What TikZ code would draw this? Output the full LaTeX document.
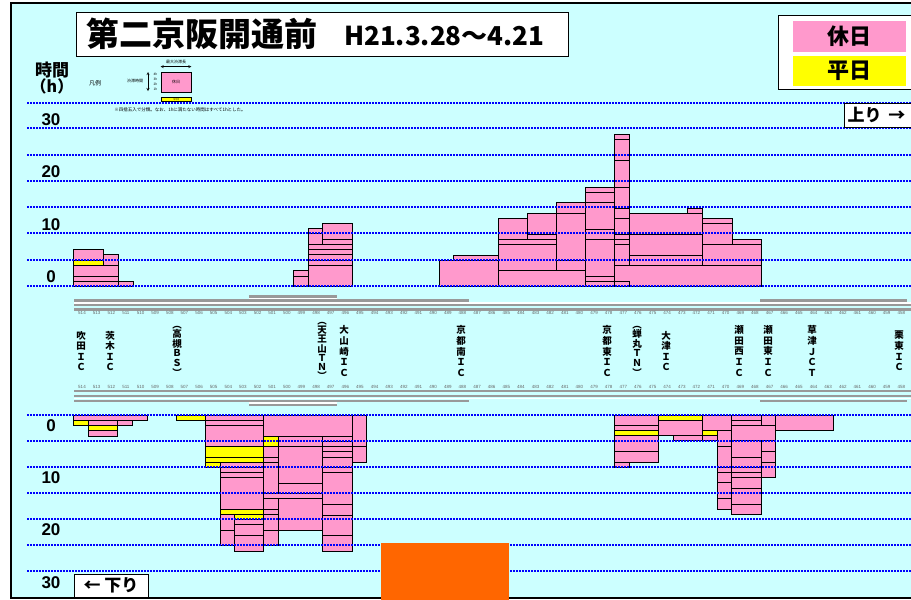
\documentclass[tikz,border=0pt]{standalone}
\usepackage{fontspec}
\setmainfont{Noto Sans CJK JP}
\newfontfamily\arial{Liberation Sans}
\usetikzlibrary{positioning}

\definecolor{bgcyan}{HTML}{CCFFFF}
\definecolor{hpink}{HTML}{FF99CC}
\definecolor{wyellow}{HTML}{FFFF00}
\definecolor{roadgray}{HTML}{999999}
\definecolor{blockorange}{HTML}{FF6600}

\tikzset{
  holi/.style={fill=hpink, draw=black, line width=1pt},
  week/.style={fill=wyellow, draw=black, line width=1pt},
  hourgrid/.style={blue, line width=1.8pt, dash pattern=on 1.5pt off 1.5pt},
  road/.style={roadgray, line width=2.4pt},
  kp/.style={font=\arial\fontsize{4.5}{5}\selectfont, text=black!60, inner sep=0pt},
  hour/.style={font=\arial\bfseries\fontsize{17}{17}\selectfont, inner sep=0pt},
  ic/.style={align=center, inner sep=0pt},
  tag/.style={draw=black, fill=white, line width=1pt, inner sep=0pt},
  tiny/.style={font=\fontsize{4.5}{5}\selectfont, inner sep=0pt},
}

\begin{document}
\begin{tikzpicture}[x=1pt, y=-1pt]
    \useasboundingbox (0,0) rectangle (911,600);
    % Frame and background
    \fill[white] (0,0) rectangle (911,600);
    \filldraw[fill=bgcyan, draw=black, line width=2pt] (11,3) rectangle (925,598);

    % Title
    \node[tag, minimum width=492pt, minimum height=44pt] (title) at (322,34) {};
    \node[anchor=west, font=\bfseries\fontsize{33}{33}\selectfont, inner sep=0pt] (titlejp) at (86,34) {第二京阪開通前};
    \node[anchor=west, font=\bfseries\fontsize{26}{26}\selectfont, inner sep=0pt] (titledate) at (344,36) {H21.3.28～4.21};

    % Legend (top right)
    \node[tag, minimum width=150pt, minimum height=74pt] (legend) at (853,52) {};
    \node[fill=hpink, minimum width=113pt, minimum height=31pt, inner sep=0pt, font=\bfseries\fontsize{22}{22}\selectfont] (holiday) at (849.5,36.5) {休日};
    \node[fill=wyellow, minimum width=113pt, minimum height=30pt, inner sep=0pt, font=\bfseries\fontsize{22}{22}\selectfont] (weekday) at (849.5,71) {平日};

    % Small legend
    \node[font=\fontsize{6}{6}\selectfont, inner sep=0pt] (hanrei) at (95,83) {凡例};
    \node[holi, line width=0.8pt, minimum width=30pt, minimum height=20pt, inner sep=0pt, font=\fontsize{4}{4}\selectfont] (sample) at (176,82) {休日};
    \node[week, line width=0.8pt, minimum width=30pt, minimum height=4pt, inner sep=0pt, font=\fontsize{3}{3}\selectfont] (samplew) at (176,99) {平日};
    \node[tiny, font=\fontsize{4}{4}\selectfont] (maxlen) at (176,62) {最大渋滞長};
    \draw[<->, >=stealth, line width=0.4pt] ([yshift=5pt]sample.north west) -- ([yshift=5pt]sample.north east);
    \coordinate (jamtop) at (148,72);
    \coordinate (jambot) at (148,91);
    \draw[<->, >=stealth, line width=0.4pt] (jamtop) -- (jambot);
    \node[tiny, font=\fontsize{4}{4}\selectfont] (jamtime) at (135,81) {渋滞時間};
    \foreach \h/\yy in {4/74,3/79,2/84,1/89}
        \node[tiny, font=\fontsize{3.2}{3.2}\selectfont] (hr\h) at (155.5,\yy) {\h h};
    \node[tiny] (note) at (180,110) {※四捨五入で分類。なお、1hに満たない時間はすべて1hとした。};

    % Axis titles and values
    \node[font=\bfseries\fontsize{17}{17}\selectfont, inner sep=0pt] (jikan) at (52,70) {時間};
    \node[font=\bfseries\fontsize{16}{16}\selectfont, inner sep=0pt, below=0pt of jikan] (unit) {（h）};
    \foreach \v/\yy in {30/120,20/172,10/225,0/277}
        \node[hour] (up\v) at (51,\yy) {\v};
    \foreach \v/\yy in {0/426,10/478,20/530,30/583}
        \node[hour] (dn\v) at (51,\yy) {\v};

    % Road (upper)
    \draw[road] (249,296.5) -- (337,296.5);
    \draw[white, line width=1.2pt] (249,298.8) -- (337,298.8);
    \draw[road] (74,300.5) -- (469,300.5);
    \draw[road] (760,300.5) -- (907,300.5);
    \draw[white, line width=1.4pt] (74,303) -- (911,303);
    \draw[road, line width=2pt] (74,305.3) -- (911,305.3);
    \draw[road] (74,309.3) -- (911,309.3);
    % Road (lower)
    \draw[road] (74,390.7) -- (911,390.7);
    \draw[road, line width=2pt] (74,396.3) -- (911,396.3);
    \draw[white, line width=1.4pt] (74,398.6) -- (911,398.6);
    \draw[road] (74,400.8) -- (469,400.8);
    \draw[road] (760,400.8) -- (907,400.8);
    \draw[white, line width=1.2pt] (249,403) -- (337,403);
    \draw[road] (249,405.2) -- (337,405.2);

    % Kilometre posts
    \foreach \k in {458,...,514} {
        \node[kp] (kpu\k) at ({82+(514-\k)*14.63},313.3) {\k};
        \node[kp] (kpd\k) at ({82+(514-\k)*14.63},386.7) {\k};
    }

    % Interchanges
    \foreach \nm/\xx/\lsk/\txt in {
        suita/81/10.6/{吹\\田\\Ｉ\\Ｃ},
        ibaraki/110/10.6/{茨\\木\\Ｉ\\Ｃ},
        takatsuki/177/9.6/{︵\\高\\槻\\Ｂ\\Ｓ\\︶},
        tennozan/322/9.2/{︵\\天\\王\\山\\Ｔ\\Ｎ\\︶},
        oyamazaki/344/10.6/{大\\山\\崎\\Ｉ\\Ｃ},
        kyotominami/461/10.6/{京\\都\\南\\Ｉ\\Ｃ},
        kyotohigashi/607/10.6/{京\\都\\東\\Ｉ\\Ｃ},
        semimaru/637/9.6/{︵\\蝉\\丸\\Ｔ\\Ｎ\\︶},
        otsu/666/10.6/{大\\津\\Ｉ\\Ｃ},
        setanishi/739/10.6/{瀬\\田\\西\\Ｉ\\Ｃ},
        setahigashi/768/10.6/{瀬\\田\\東\\Ｉ\\Ｃ},
        kusatsu/812/10.6/{草\\津\\Ｊ\\Ｃ\\Ｔ},
        ritto/899/10.6/{栗\\東\\Ｉ\\Ｃ}}
        \node[ic, font=\bfseries\fontsize{9.5}{\lsk}\selectfont] (\nm) at (\xx,351) {\txt};

    % Congestion, upbound
    \foreach \xa/\ya/\xb/\yb in {
        73/249/103/260, 103/254/118/265, 73/265/118/276, 73/276/118/281,
        73/281/118/286, 118/281/133/286,
        293/270/308/276, 293/276/308/286, 322/223/352/239, 308/228/322/233,
        308/233/322/244, 322/239/352/244, 308/244/352/249, 308/249/352/254,
        308/254/352/260, 308/260/352/265, 308/265/352/286,
        439/260/498/286, 453/255/498/260, 498/270/585/286, 498/244/556/270,
        556/260/585/270, 498/218/527/239, 527/213/556/234, 527/234/556/239,
        498/239/556/244, 556/202/585/213, 556/213/585/260,
        585/187/614/192, 585/192/614/202, 585/202/614/229, 585/229/614/239,
        585/239/614/276, 585/276/614/281, 585/281/614/286,
        614/134/629/139, 614/139/629/160, 614/160/629/187, 614/187/629/208,
        614/208/629/218, 614/218/629/234, 614/234/629/239, 614/239/629/244,
        614/244/629/265,
        629/213/702/234, 687/208/702/213, 629/234/702/255, 629/255/702/265,
        702/218/732/223, 702/223/732/244, 732/239/761/244, 702/244/761/265,
        614/265/761/286, 614/281/629/286}
        \draw[holi] (\xa,\ya) rectangle (\xb,\yb);
    \draw[week] (73,260) rectangle (103,265);

    % Congestion, downbound
    \foreach \xa/\ya/\xb/\yb in {
        73/415/147/420, 88/420/117/425, 117/420/132/425, 88/430/117/436,
        263/415/352/436, 205/415/263/420, 205/420/263/425, 205/425/263/446,
        352/415/366/446, 352/446/366/462, 263/446/278/457, 263/457/278/462,
        278/436/322/446, 278/446/322/483,
        322/436/352/441, 322/441/352/446, 322/446/352/451, 322/451/352/457,
        322/457/352/467, 322/467/352/472, 322/472/352/504, 322/504/352/515,
        322/515/352/535, 322/535/352/551,
        220/462/263/467, 220/467/263/472, 220/472/263/477, 220/477/263/509,
        263/462/278/493, 278/483/322/493, 263/493/322/498, 278/498/322/530,
        263/498/278/509, 263/509/278/514, 220/514/234/530, 234/519/263/524,
        234/524/263/535, 263/514/278/530, 220/530/234/545, 263/530/278/545,
        234/535/263/551,
        614/415/658/425, 614/425/658/430, 614/435/658/451, 614/451/658/462,
        614/462/629/467, 658/420/702/435, 673/435/702/440, 702/415/731/430,
        702/435/717/440, 731/415/761/420, 731/420/761/425, 731/425/775/440,
        761/415/775/425, 775/415/833/430,
        717/430/731/446, 717/446/731/467, 717/467/731/472, 717/472/731/482,
        717/482/731/498, 717/498/731/509,
        731/440/761/457, 731/457/761/467, 731/467/761/472, 731/472/761/477,
        731/477/761/488, 731/488/761/504, 731/504/761/514,
        761/440/775/451, 761/451/775/462, 761/462/775/477}
        \draw[holi] (\xa,\ya) rectangle (\xb,\yb);
    \foreach \xa/\ya/\xb/\yb in {
        73/420/88/425, 88/425/117/430, 176/415/205/420,
        205/446/263/457, 205/457/263/462, 205/462/220/467, 263/436/278/446,
        220/509/263/514, 234/514/263/519,
        614/430/658/435, 658/415/702/420, 702/430/717/435}
        \draw[week] (\xa,\ya) rectangle (\xb,\yb);

    % Hour grid
    \foreach \yy in {103,128,155,181,207,233,260,286,415,441,467,493,519,545,571}
        \draw[hourgrid] (27,\yy) -- (911,\yy);

    % Direction tags
    \node[tag, anchor=west, minimum width=80pt, minimum height=24pt, text width=74pt, align=left,
          font=\bfseries\fontsize{17}{17}\selectfont] (upbound) at (844,115) {上り\hspace{7pt}→};
    \node[tag, minimum width=74pt, minimum height=23pt,
          font=\bfseries\fontsize{17}{17}\selectfont] (downbound) at (111,585.5) {←\hspace{4pt}下り};

    % Orange block
    \fill[blockorange] (381,543) rectangle (509,602);
\end{tikzpicture}
\end{document}
